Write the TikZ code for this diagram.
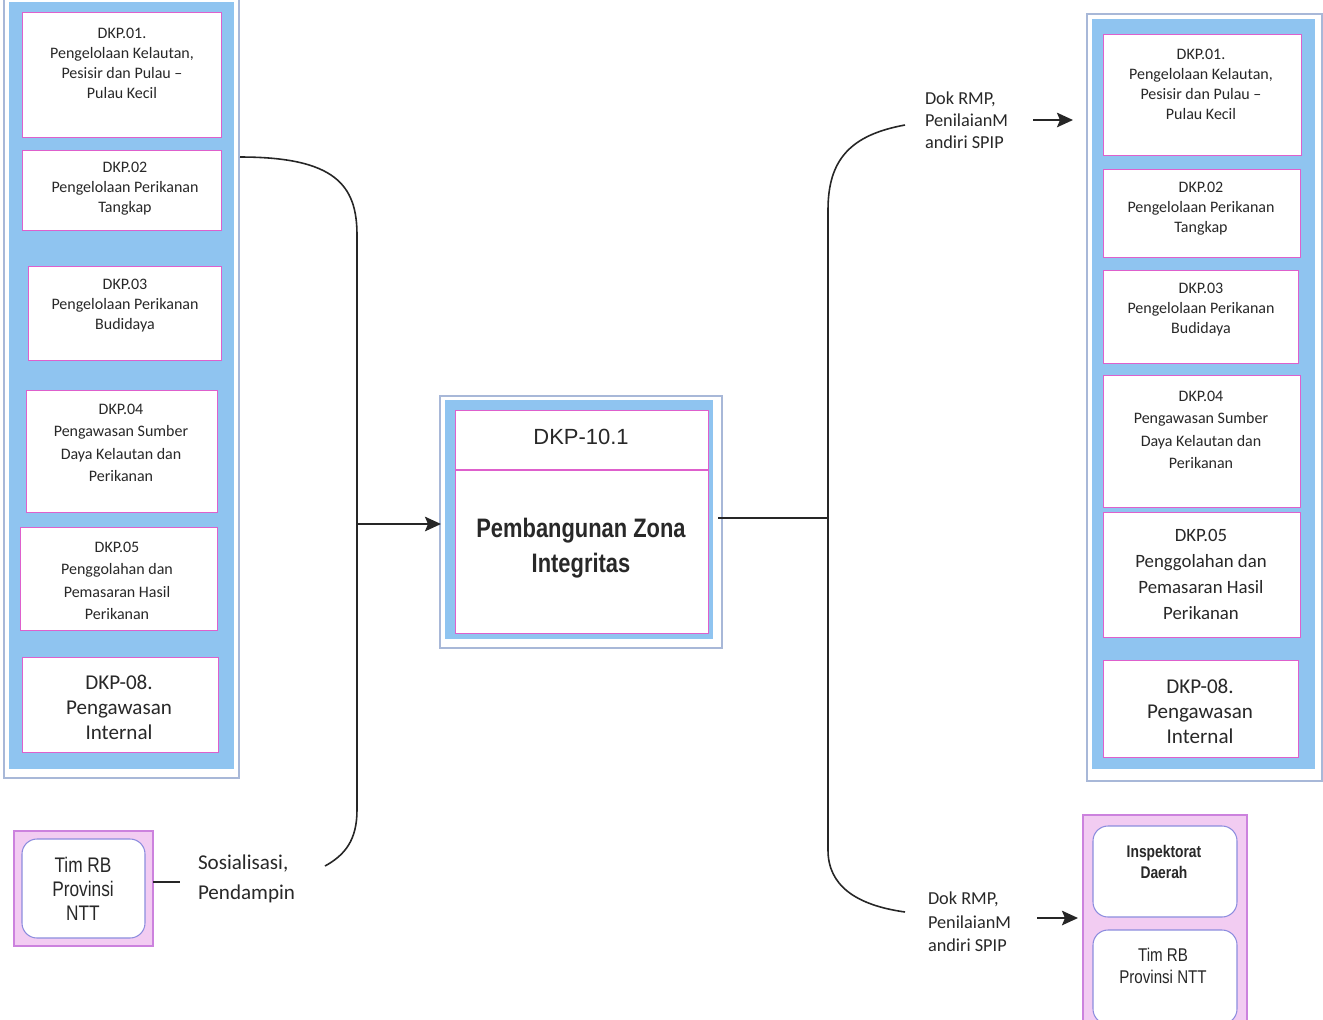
\documentclass[tikz,border=0pt]{standalone}
\usepackage{fontspec}
\setmainfont{Carlito}
\newfontfamily\narrowsans[FakeStretch=0.82]{Liberation Sans}
\newfontfamily\arialfont{Liberation Sans}
\usetikzlibrary{arrows.meta,calc}

\definecolor{boxblue}{RGB}{143,196,240}
\definecolor{frameline}{RGB}{168,184,216}
\definecolor{rimpink}{RGB}{222,96,204}
\definecolor{softpink}{RGB}{242,204,242}
\definecolor{pinkrim}{RGB}{204,130,222}
\definecolor{lilac}{RGB}{140,140,222}
\definecolor{ink}{RGB}{40,40,40}

% a rectangular node given by its two corners (pixel units)
\newcommand\cornerbox[6]{%
  \node[#1, minimum width={(#5-#3)*0.02cm}, minimum height={(#6-#4)*0.02cm}]
    (#2) at ({(#3+#5)/2},{(#4+#6)/2}) {};}

\tikzset{
  every node/.style={inner sep=0pt, outer sep=0pt, text=ink},
  frame/.style={draw=frameline, line width=0.6pt},
  groupbox/.style={fill=boxblue, draw=none},
  unitbox/.style={fill=white, draw=rimpink, line width=0.5pt},
  pinkbox/.style={fill=softpink, draw=pinkrim, line width=0.6pt},
  roundbox/.style={fill=white, draw=lilac, line width=0.6pt, rounded corners=0.3cm},
  smalltxt/.style={align=center, font=\fontsize{9.1}{11.4}\selectfont},
  midtxt/.style={align=center, font=\fontsize{9.1}{12.8}\selectfont},
  bigtxt/.style={align=center, font=\fontsize{12}{14.3}\selectfont},
  largetxt/.style={align=center, font=\fontsize{10.7}{14.8}\selectfont},
  flowtxt/.style={align=left, anchor=west, font=\fontsize{10.4}{12.4}\selectfont},
  link/.style={draw=black!85, line width=0.9pt},
  arr/.style={draw=black!85, line width=1.2pt, -{Stealth[length=0.32cm,width=0.29cm,inset=0.06cm]}},
}

\begin{document}
\begin{tikzpicture}[x=0.02cm, y=-0.02cm]
\useasboundingbox[fill=white] (0,0) rectangle (1323,1019);

% ---------- left group of units ----------
\draw[frame] (4,-2) rectangle (239,778);
\cornerbox{groupbox}{lgrp}{9}{2}{234}{769}
\cornerbox{unitbox}{l01}{22}{12}{221}{137}
\cornerbox{unitbox}{l02}{22}{150}{221}{230}
\cornerbox{unitbox}{l03}{28}{266}{221}{360}
\cornerbox{unitbox}{l04}{26}{390}{217}{512}
\cornerbox{unitbox}{l05}{20}{527}{217}{630}
\cornerbox{unitbox}{l08}{22}{657}{218}{752}

\node[smalltxt] (tl01) at (122,63) {DKP.01.\\Pengelolaan Kelautan,\\Pesisir dan Pulau –\\Pulau Kecil};
\node[smalltxt] (tl02) at (125,189) {DKP.02\\Pengelolaan Perikanan\\Tangkap};
\node[smalltxt] (tl03) at (125,306) {DKP.03\\Pengelolaan Perikanan\\Budidaya};
\node[midtxt] (tl04) at (121,443) {DKP.04\\Pengawasan Sumber\\Daya Kelautan dan\\Perikanan};
\node[midtxt] (tl05) at (117,581) {DKP.05\\Penggolahan dan\\Pemasaran Hasil\\Perikanan};
\node[bigtxt] (tl08) at (119,707) {DKP-08.\\Pengawasan\\Internal};

% ---------- Tim RB box, lower left ----------
\cornerbox{pinkbox}{timl}{14}{831}{153}{946}
\cornerbox{roundbox}{timlin}{22}{839}{145}{938}
\node[align=center, font=\narrowsans\fontsize{12}{13.6}\selectfont] (ttiml) at (83,889) {Tim RB\\Provinsi\\NTT};
\coordinate (timtail) at (180,882);
\draw[link] (timl.east |- timtail) -- (timtail);
\node[flowtxt, font=\fontsize{12}{17}\selectfont] (sos) at (198,879) {Sosialisasi,\\Pendampin};

% ---------- central process box ----------
\draw[frame] (440,396) rectangle (722,648);
\cornerbox{groupbox}{zone}{445}{400}{713}{639}
\cornerbox{unitbox}{zin}{455}{410}{708}{633}
\draw[draw=rimpink, line width=0.6pt] (zin.west |- 0,470) -- (zin.east |- 0,470);
\node[font=\arialfont\fontsize{12.5}{15}\selectfont] (zid) at (581,437) {DKP-10.1};
\node[align=center, font=\narrowsans\bfseries\fontsize{15.2}{19.8}\selectfont] (zname) at (581,548) {Pembangunan Zona\\Integritas};

% ---------- right group of units ----------
\draw[frame] (1087,14) rectangle (1322,781);
\cornerbox{groupbox}{rgrp}{1092}{19}{1315}{769}
\cornerbox{unitbox}{r01}{1103}{34}{1301}{155}
\cornerbox{unitbox}{r02}{1103}{169}{1300}{257}
\cornerbox{unitbox}{r03}{1103}{270}{1298}{363}
\cornerbox{unitbox}{r04}{1103}{375}{1300}{507}
\cornerbox{unitbox}{r05}{1103}{512}{1300}{637}
\cornerbox{unitbox}{r08}{1103}{660}{1298}{757}

\node[smalltxt] (tr01) at (1201,84) {DKP.01.\\Pengelolaan Kelautan,\\Pesisir dan Pulau –\\Pulau Kecil};
\node[smalltxt] (tr02) at (1201,209) {DKP.02\\Pengelolaan Perikanan\\Tangkap};
\node[smalltxt] (tr03) at (1201,310) {DKP.03\\Pengelolaan Perikanan\\Budidaya};
\node[midtxt] (tr04) at (1201,430) {DKP.04\\Pengawasan Sumber\\Daya Kelautan dan\\Perikanan};
\node[largetxt] (tr05) at (1201,574) {DKP.05\\Penggolahan dan\\Pemasaran Hasil\\Perikanan};
\node[bigtxt] (tr08) at (1200,711) {DKP-08.\\Pengawasan\\Internal};

% ---------- reviewers, lower right ----------
\cornerbox{pinkbox}{rev}{1083}{815}{1247}{1030}
\cornerbox{roundbox}{insp}{1093}{826}{1237}{917}
\cornerbox{roundbox}{timr}{1093}{930}{1237}{1024}
\node[align=center, font=\narrowsans\bfseries\fontsize{9.6}{12.4}\selectfont] (tinsp) at (1164,862) {Inspektorat\\Daerah};
\node[align=center, font=\narrowsans\fontsize{10.5}{12.4}\selectfont] (ttimr) at (1163,966) {Tim RB\\Provinsi NTT};

% ---------- flow labels ----------
\node[flowtxt] (dok1) at (925,120) {Dok RMP,\\PenilaianM\\andiri SPIP};
\node[flowtxt, font=\fontsize{10.4}{13.4}\selectfont] (dok2) at (928,922) {Dok RMP,\\PenilaianM\\andiri SPIP};

% ---------- connectors ----------
\coordinate (lsrc) at ($(lgrp.east |- 0,157)+(6,0)$);
\coordinate (lbus) at (357,524);
\coordinate (lend) at (325,866);
\draw[link] (lsrc) .. controls (335,157) and (357,185) .. (357,235)
  -- (357,810) .. controls (357,840) and (345,855) .. (lend);
\draw[arr] (lbus) -- ($(lbus -| zone.west)+(-4,0)$);

\coordinate (rbus) at (828,518);
\coordinate (rtop) at (905,125);
\coordinate (rbot) at (905,912);
\draw[link] ($(zone.east |- rbus)+(5,0)$) -- (rbus);
\draw[link] (rtop) .. controls (850,135) and (828,160) .. (828,210)
  -- (828,850) .. controls (828,885) and (855,905) .. (rbot);

\coordinate (a1s) at (1033,120);
\coordinate (a2s) at (1037,918);
\draw[arr] (a1s) -- ($(a1s -| rgrp.west)+(-19,0)$);
\draw[arr] (a2s) -- ($(a2s -| rev.west)+(-5,0)$);
\end{tikzpicture}
\end{document}
